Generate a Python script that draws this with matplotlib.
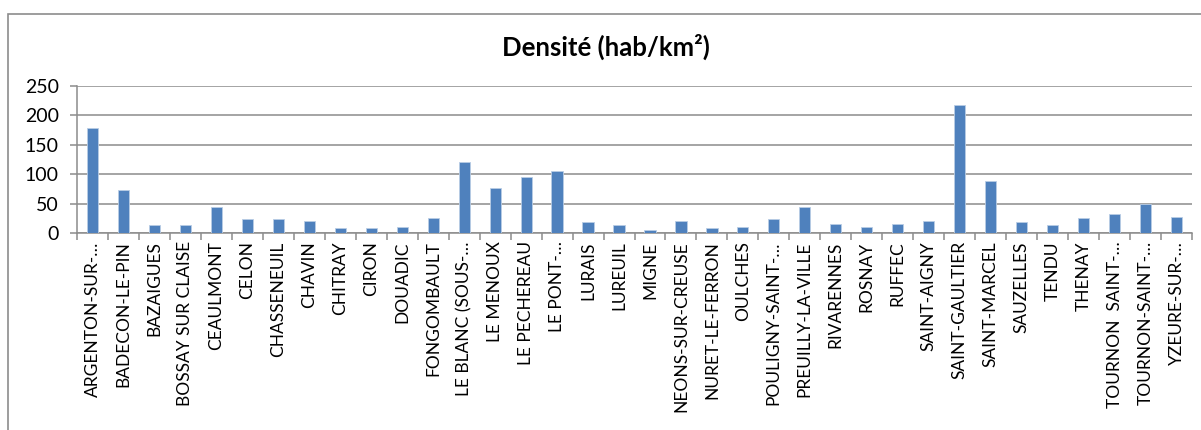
import matplotlib
matplotlib.use("Agg")
import matplotlib.pyplot as plt
from matplotlib.patches import Rectangle
from matplotlib.ticker import FixedLocator

plt.rcParams['font.family'] = ['Lato', 'DejaVu Sans']

communes = [
    "ARGENTON-SUR-…", "BADECON-LE-PIN", "BAZAIGUES", "BOSSAY SUR CLAISE",
    "CEAULMONT", "CELON", "CHASSENEUIL", "CHAVIN", "CHITRAY", "CIRON",
    "DOUADIC", "FONGOMBAULT", "LE BLANC (SOUS-…", "LE MENOUX",
    "LE PECHEREAU", "LE PONT-…", "LURAIS", "LUREUIL", "MIGNE",
    "NEONS-SUR-CREUSE", "NURET-LE-FERRON", "OULCHES", "POULIGNY-SAINT-…",
    "PREUILLY-LA-VILLE", "RIVARENNES", "ROSNAY", "RUFFEC", "SAINT-AIGNY",
    "SAINT-GAULTIER", "SAINT-MARCEL", "SAUZELLES", "TENDU", "THENAY",
    "TOURNON  SAINT-…", "TOURNON-SAINT-…", "YZEURE-SUR-…",
]
densite = [
    178, 73, 13, 13, 44, 23, 23, 21, 8.5, 8.5,
    11, 26, 121, 76, 96, 106, 18, 13, 5,
    21, 8, 11, 23, 44, 16, 11, 16, 21,
    218, 88, 18, 13, 26, 33, 49, 28,
]
yticks = [0, 50, 100, 150, 200, 250]
title = "Densité (hab/km²)"

W, H = 1201, 430
fig = plt.figure(figsize=(W / 100, H / 100), dpi=100)
fig.patch.set_facecolor("white")

# chart-area frame (runs off the right and bottom edges)
fig.patches.append(Rectangle((8 / W, -0.05), 1.2, 1 - 14 / H + 0.05,
                             transform=fig.transFigure, fill=False,
                             edgecolor="#8c8c8c", linewidth=1.2))

ax = fig.add_axes([77 / W, 1 - 233 / H, (1192 - 77) / W, (233 - 86) / H])
x = list(range(len(communes)))
ax.bar(x, densite, width=0.36, color="#4F81BD", edgecolor="#b9cde5",
       linewidth=0.6, zorder=3)

ax.set_xlim(-0.5, len(communes) - 0.5)
ax.set_ylim(0, 250)
ax.set_yticks(yticks)
ax.yaxis.grid(True, color="#8c8c8c", linewidth=1.1, zorder=0)
ax.set_axisbelow(True)

for s in ("top", "right"):
    ax.spines[s].set_visible(False)
for s in ("left", "bottom"):
    ax.spines[s].set_color("#8c8c8c")
    ax.spines[s].set_linewidth(1.1)

ax.set_xticks(x)
ax.set_xticklabels(communes, rotation=90, fontsize=12.5, color="black")
ax.tick_params(axis="x", length=0, pad=6)
ax.xaxis.set_minor_locator(FixedLocator([i - 0.5 for i in range(len(communes) + 1)]))
ax.tick_params(axis="x", which="minor", length=5, color="#8c8c8c", width=1.1)
ax.tick_params(axis="y", length=5, color="#8c8c8c", width=1.1,
               labelsize=14, pad=8)

fig.text(606 / W, 1 - 47 / H, title, ha="center", va="center",
         fontsize=18.5, fontweight="bold")

fig.savefig("out.png", dpi=100)
